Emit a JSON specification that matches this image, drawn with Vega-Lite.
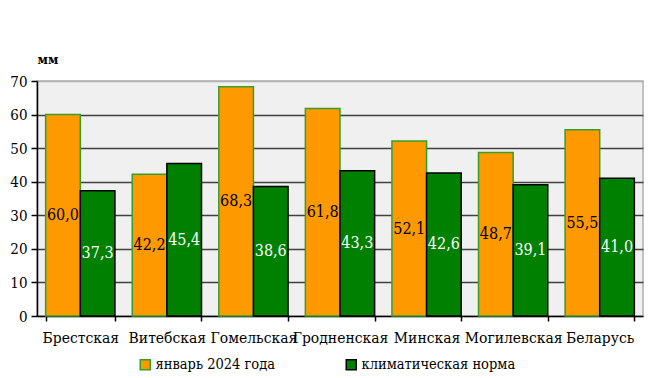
{
  "$schema": "https://vega.github.io/schema/vega-lite/v6.json",
  "width": 606,
  "height": 235,
  "autosize": {"type": "none"},
  "padding": {"left": 37, "top": 81, "right": 6, "bottom": 62},
  "background": "white",
  "config": {
    "locale": {"number": {"decimal": ",", "thousands": " ", "grouping": [3], "currency": ["", ""]}},
    "view": {"fill": "#f0f0f0", "stroke": "#b0b0b0", "strokeWidth": 1.5}
  },
  "data": {
    "values": [
      {"region": "Брестская", "series": "январь 2024 года", "value": 60.0},
      {"region": "Брестская", "series": "климатическая норма", "value": 37.3},
      {"region": "Витебская", "series": "январь 2024 года", "value": 42.2},
      {"region": "Витебская", "series": "климатическая норма", "value": 45.4},
      {"region": "Гомельская", "series": "январь 2024 года", "value": 68.3},
      {"region": "Гомельская", "series": "климатическая норма", "value": 38.6},
      {"region": "Гродненская", "series": "январь 2024 года", "value": 61.8},
      {"region": "Гродненская", "series": "климатическая норма", "value": 43.3},
      {"region": "Минская", "series": "январь 2024 года", "value": 52.1},
      {"region": "Минская", "series": "климатическая норма", "value": 42.6},
      {"region": "Могилевская", "series": "январь 2024 года", "value": 48.7},
      {"region": "Могилевская", "series": "климатическая норма", "value": 39.1},
      {"region": "Беларусь", "series": "январь 2024 года", "value": 55.5},
      {"region": "Беларусь", "series": "климатическая норма", "value": 41.0}
    ]
  },
  "encoding": {
    "x": {
      "field": "region", "type": "nominal", "sort": null,
      "scale": {"paddingInner": 0.2, "paddingOuter": 0.1},
      "axis": {
        "title": null, "labelAngle": 0, "labelFontSize": 15.5, "labelColor": "#000",
        "labelFont": "DejaVu Serif Condensed", "labelOverlap": false, "labelLimit": 0,
        "labelPadding": 9,
        "tickBand": "extent", "tickColor": "#000", "tickSize": 5, "domainColor": "#000",
        "domainWidth": 1.5, "tickWidth": 1.5
      }
    },
    "xOffset": {"field": "series", "type": "nominal", "sort": null},
    "y": {
      "field": "value", "type": "quantitative",
      "scale": {"domain": [0, 70], "nice": false},
      "axis": {
        "values": [0, 10, 20, 30, 40, 50, 60, 70],
        "title": "мм", "titleAngle": 0, "titleAlign": "left", "titleBaseline": "bottom",
        "titleX": 0, "titleY": -15, "titleFontSize": 12, "titleFontWeight": "bold",
        "titleFont": "DejaVu Serif", "titleColor": "#000",
        "labelFontSize": 15, "labelColor": "#000", "labelFont": "DejaVu Serif Condensed", "labelPadding": 4,
        "tickColor": "#000", "tickSize": 6, "tickWidth": 1.5, "domainColor": "#000", "domainWidth": 1.5,
        "gridColor": {"condition": {"test": "datum.value == 70 || datum.value == 0", "value": "#b0b0b0"}, "value": "#404040"},
        "gridWidth": 1.5
      }
    }
  },
  "layer": [
    {
      "mark": {"type": "bar", "strokeWidth": 1.5},
      "encoding": {
        "color": {
          "field": "series", "type": "nominal", "sort": null,
          "scale": {"domain": ["январь 2024 года", "климатическая норма"], "range": ["#ff9900", "#008000"]},
          "legend": {
            "title": null, "orient": "none", "direction": "horizontal",
            "legendX": 101, "legendY": 276, "padding": 0,
            "symbolType": "square", "symbolSize": 100, "symbolStrokeWidth": 1.5,
            "labelFontSize": 14.5, "labelFont": "DejaVu Serif Condensed", "labelColor": "#000",
            "columnPadding": 68, "labelOffset": 3, "labelLimit": 0
          }
        },
        "stroke": {
          "field": "series", "type": "nominal", "sort": null,
          "scale": {"domain": ["январь 2024 года", "климатическая норма"], "range": ["#33a02c", "#000000"]},
          "legend": {
            "title": null, "orient": "none", "direction": "horizontal",
            "legendX": 101, "legendY": 276, "padding": 0,
            "symbolType": "square", "symbolSize": 100, "symbolStrokeWidth": 1.5,
            "labelFontSize": 14.5, "labelFont": "DejaVu Serif Condensed", "labelColor": "#000",
            "columnPadding": 68, "labelOffset": 3, "labelLimit": 0
          }
        }
      }
    },
    {
      "transform": [{"calculate": "datum.value / 2", "as": "mid"}],
      "mark": {"type": "text", "fontSize": 16, "font": "DejaVu Serif Condensed", "baseline": "middle"},
      "encoding": {
        "y": {"field": "mid", "type": "quantitative"},
        "text": {"field": "value", "type": "quantitative", "format": ".1f"},
        "fill": {
          "condition": {"test": "datum.series == 'январь 2024 года'", "value": "#000000"},
          "value": "#ffffff"
        }
      }
    }
  ]
}
